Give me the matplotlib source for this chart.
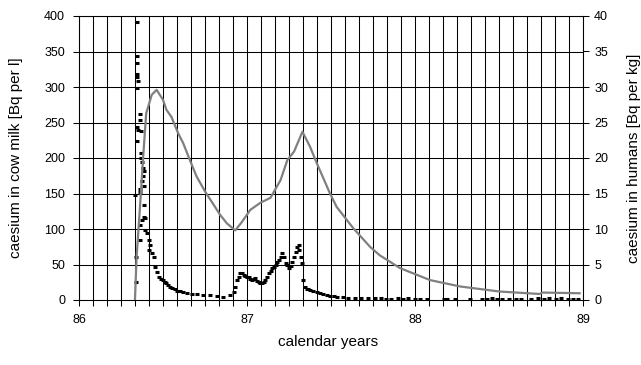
import numpy as np
import matplotlib.pyplot as plt

plt.rcParams['font.family'] = ['Liberation Sans', 'DejaVu Sans']

# caesium in cow milk [Bq per l] (left axis)
milk_years = [
    86.345, 86.345, 86.345, 86.347, 86.347, 86.350, 86.347, 86.366, 86.366, 86.345,
    86.352, 86.372, 86.345, 86.368, 86.372, 86.375, 86.380, 86.385, 86.381, 86.375,
    86.385, 86.363, 86.336, 86.364, 86.388, 86.385, 86.395, 86.373, 86.363, 86.395,
    86.405, 86.363, 86.415, 86.425, 86.415, 86.435, 86.445, 86.342, 86.455, 86.465,
    86.475, 86.342, 86.490, 86.500, 86.510, 86.520, 86.530, 86.540, 86.555, 86.570,
    86.585, 86.600, 86.620, 86.640, 86.670, 86.700, 86.740, 86.780, 86.820, 86.860,
    86.900, 86.920, 86.930, 86.940, 86.950, 86.960, 86.970, 86.980, 86.990, 87.000,
    87.010, 87.020, 87.030, 87.040, 87.050, 87.060, 87.070, 87.080, 87.090, 87.100,
    87.110, 87.120, 87.130, 87.140, 87.150, 87.160, 87.170, 87.180, 87.190, 87.200,
    87.210, 87.220, 87.230, 87.240, 87.250, 87.260, 87.270, 87.280, 87.290, 87.300,
    87.310, 87.310, 87.320, 87.325, 87.335, 87.345, 87.355, 87.365, 87.375, 87.395,
    87.415, 87.435, 87.455, 87.475, 87.495, 87.515, 87.535, 87.570, 87.600, 87.640,
    87.680, 87.720, 87.760, 87.800, 87.830, 87.860, 87.900, 87.930, 87.960, 88.000,
    88.030, 88.070, 88.170, 88.190, 88.240, 88.330, 88.400, 88.430, 88.460, 88.490,
    88.520, 88.560, 88.600, 88.630, 88.690, 88.730, 88.770, 88.800, 88.840, 88.870,
    88.910, 88.940, 88.970,
]
milk_values = [
    392, 344, 334, 318, 314, 308, 298, 262, 254, 243,
    240, 238, 224, 207, 200, 194, 186, 181, 174, 167,
    160, 157, 148, 152, 134, 117, 115, 113, 106, 99,
    94, 85, 85, 78, 70, 66, 61, 61, 47, 40,
    33, 26, 30, 28, 26, 24, 21, 19, 17, 15,
    13, 12, 11, 9.4, 8.5, 8, 7.5, 7, 5.6, 4.5,
    7, 11.7, 18.7, 28.2, 32.8, 37.5, 38.5, 35.2, 34, 32.8,
    31.9, 30, 28.2, 29, 30.5, 27, 25.8, 24, 23.5, 26,
    28.2, 33, 37.5, 41, 44.6, 47, 49.3, 53, 56.3, 60,
    65.7, 61, 51.6, 49.3, 44.6, 48, 54, 61, 68, 75,
    77.5, 70, 61, 51.6, 28.2, 18.7, 16, 15, 14, 13,
    11.7, 10, 8.5, 7, 5.6, 5, 4.7, 4, 3.5, 3,
    3, 2.5, 2.5, 2.5, 2, 2, 2.5, 2, 2.5, 2,
    2, 2, 2, 2, 2, 2, 2, 2, 2.5, 2,
    2, 2, 2, 2, 2, 2.5, 2, 2.5, 2, 2.5,
    2, 2, 2,
]

# caesium in humans [Bq per kg] (right axis)
human_years = [
    86.333, 86.343, 86.363, 86.383, 86.400, 86.433, 86.462, 86.500, 86.520, 86.550,
    86.590, 86.620, 86.660, 86.700, 86.750, 86.780, 86.840, 86.880, 86.930, 86.970,
    87.020, 87.080, 87.140, 87.200, 87.240, 87.280, 87.330, 87.375, 87.415, 87.494,
    87.534, 87.633, 87.732, 87.790, 87.910, 88.090, 88.270, 88.500, 88.740, 88.760,
    88.980,
]
human_values = [
    0, 6.1, 13.1, 20.5, 26.3, 28.9, 29.6, 28.2, 26.8, 25.8,
    23.5, 22.1, 19.7, 17.4, 15.3, 14.2, 12.0, 10.8, 9.8, 11.0,
    12.7, 13.7, 14.4, 16.9, 19.7, 20.9, 23.7, 21.6, 19.3, 15.0,
    13.1, 10.1, 7.5, 6.3, 4.5, 2.8, 1.9, 1.2, 0.85, 1.05,
    0.95,
]

fig = plt.figure(figsize=(6.41, 3.65), dpi=100)
ax = fig.add_axes([79/641, 65/365, 504/641, 284/365])
ax2 = ax.twinx()

ax.plot(milk_years, milk_values, linestyle='none', marker='_',
        markersize=3.5, markeredgewidth=2.2, color='black', zorder=3)
ax2.plot(human_years, human_values, color='#808080', lw=1.6)

months = 86 + np.arange(37) / 12
ax.set_xlim(86, 89)
ax.set_ylim(0, 400)
ax2.set_ylim(0, 40)
ax.set_xticks([86, 87, 88, 89])
ax.set_xticklabels(['86', '87', '88', '89'])
ax.set_xticks(months, minor=True)
ax.set_yticks(np.arange(0, 401, 50))
ax2.set_yticks(np.arange(0, 41, 5))

for m in months:
    ax.axvline(m, color='black', lw=0.75, zorder=1)
for v in np.arange(50, 401, 50):
    ax.axhline(v, color='black', lw=0.75, zorder=1)

for a in (ax, ax2):
    for s in a.spines.values():
        s.set_linewidth(0.75)
    a.tick_params(which='both', length=4, width=0.75, direction='out',
                  labelsize=9, colors='black')
ax.tick_params(axis='x', which='both', length=4, pad=6)
ax.tick_params(axis='y', pad=6)
ax2.tick_params(axis='y', pad=4)

ax.set_xlabel('calendar years', fontsize=11)
ax.xaxis.set_label_coords(0.494, -0.123)
ax.set_ylabel('caesium in cow milk [Bq per l]', fontsize=11)
ax.yaxis.set_label_coords(-0.111, 0.5)
ax2.set_ylabel('caesium in humans [Bq per kg]', fontsize=11)
ax2.yaxis.set_label_coords(1.087, 0.5)

fig.savefig('out.png', dpi=100)
